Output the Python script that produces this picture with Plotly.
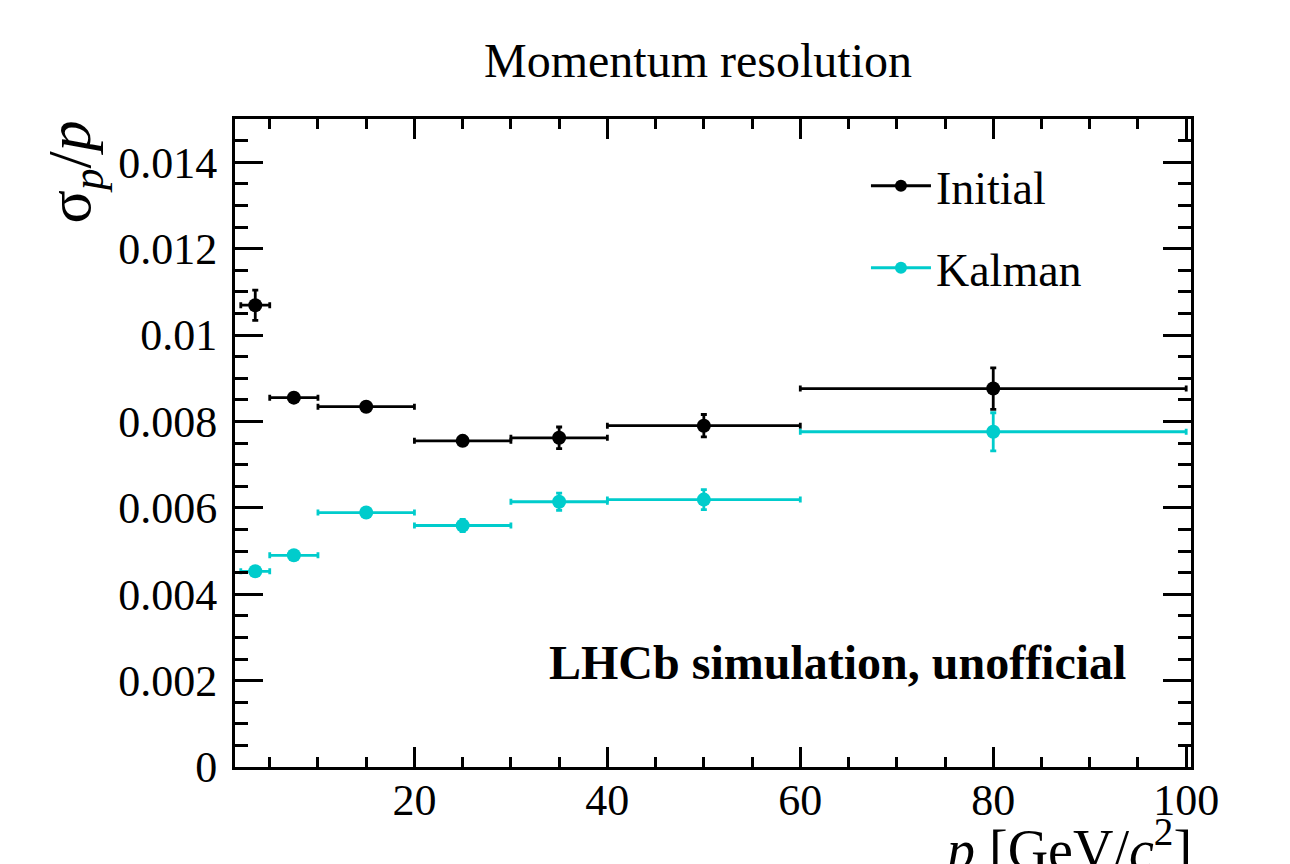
import plotly.graph_objects as go

# Bin edges in momentum p [GeV/c^2]
bin_lo = [2, 5, 10, 20, 30, 40, 60]
bin_hi = [5, 10, 20, 30, 40, 60, 100]

initial_res = [0.01069, 0.00855, 0.00834, 0.00755, 0.00762, 0.00790, 0.00876]
initial_err = [0.00035, 0.00005, 0.00004, 0.00005, 0.00025, 0.00026, 0.00048]

kalman_res = [0.00453, 0.00490, 0.00589, 0.00559, 0.00614, 0.00619, 0.00776]
kalman_err = [0.00005, 0.00005, 0.00005, 0.00014, 0.00020, 0.00023, 0.00044]

y_tickvals = [0, 0.002, 0.004, 0.006, 0.008, 0.01, 0.012, 0.014]
y_ticktext = ["0", "0.002", "0.004", "0.006", "0.008", "0.01", "0.012", "0.014"]
x_tickvals = [20, 40, 60, 80, 100]

FONT = "Liberation Serif"
BLACK = "#000000"
CYAN = "#00cccc"

centers = [(a + b) / 2 for a, b in zip(bin_lo, bin_hi)]
half_w = [(b - a) / 2 for a, b in zip(bin_lo, bin_hi)]

fig = go.Figure()


def add_series(name, yvals, yerr, color):
    fig.add_trace(go.Scatter(
        x=centers, y=yvals, mode="markers", name=name, showlegend=False,
        marker=dict(color=color, size=14, symbol="circle"),
        error_x=dict(type="data", array=half_w, color=color, thickness=2.8, width=3),
        error_y=dict(type="data", array=yerr, color=color, thickness=2.8, width=3),
    ))
    fig.add_trace(go.Scatter(
        x=[None], y=[None], mode="lines+markers", name=name, legendgroup=name,
        line=dict(color=color, width=3), marker=dict(color=color, size=12),
    ))


add_series("Initial", initial_res, initial_err, BLACK)
add_series("Kalman", kalman_res, kalman_err, CYAN)

axis_common = dict(
    showline=True, linecolor=BLACK, linewidth=3, mirror="allticks",
    ticks="inside", tickcolor=BLACK, tickwidth=3, showgrid=False, zeroline=False,
    tickfont=dict(family=FONT, size=44, color=BLACK),
)

fig.update_layout(
    width=1290, height=864,
    margin=dict(l=235, r=99, t=119, b=97),
    paper_bgcolor="white", plot_bgcolor="white",
    font=dict(family=FONT, size=46, color=BLACK),
    title=dict(text="Momentum resolution", x=698 / 1290, xanchor="center", xref="container",
               y=1 - 60 / 864, yanchor="middle", yref="container",
               font=dict(family=FONT, size=48, color=BLACK)),
    xaxis=dict(range=[1.4, 100.5], tickvals=x_tickvals, ticklen=20,
               minor=dict(dtick=5, tick0=0, ticks="inside", ticklen=10, tickwidth=2.5, tickcolor=BLACK),
               ticklabelstandoff=-8, **axis_common),
    yaxis=dict(range=[0, 0.015], tickvals=y_tickvals, ticktext=y_ticktext, ticklen=28,
               minor=dict(dtick=0.0005, tick0=0, ticks="inside", ticklen=13, tickwidth=2.5, tickcolor=BLACK),
               ticklabelstandoff=6, **axis_common),
    legend=dict(x=0.66, y=0.953, xanchor="left", yanchor="top", bgcolor="rgba(0,0,0,0)",
                font=dict(family=FONT, size=46, color=BLACK), itemwidth=60,
                tracegroupgap=19),
    showlegend=True,
)

fig.add_annotation(
    text="<b>LHCb simulation, unofficial</b>", xref="paper", yref="paper",
    x=(1128 - 235) / 956, y=(767 - 662) / 648, xanchor="right", yanchor="middle",
    showarrow=False, font=dict(family=FONT, size=48, color=BLACK),
)
fig.add_annotation(
    text="σ<sub><i>p</i></sub>/<i>p</i>", xref="paper", yref="paper",
    x=(73 - 235) / 956, y=1.0, xanchor="center", yanchor="top", textangle=-90,
    showarrow=False, font=dict(family=FONT, size=62, color=BLACK),
)
fig.add_annotation(
    text="<i>p</i> [GeV/<i>c</i><sup>2</sup>]", xref="paper", yref="paper",
    x=(1194 - 235) / 956, y=-(808 - 767) / 648, xanchor="right", yanchor="top",
    showarrow=False, font=dict(family=FONT, size=56, color=BLACK),
)

fig.write_html("out.html")
